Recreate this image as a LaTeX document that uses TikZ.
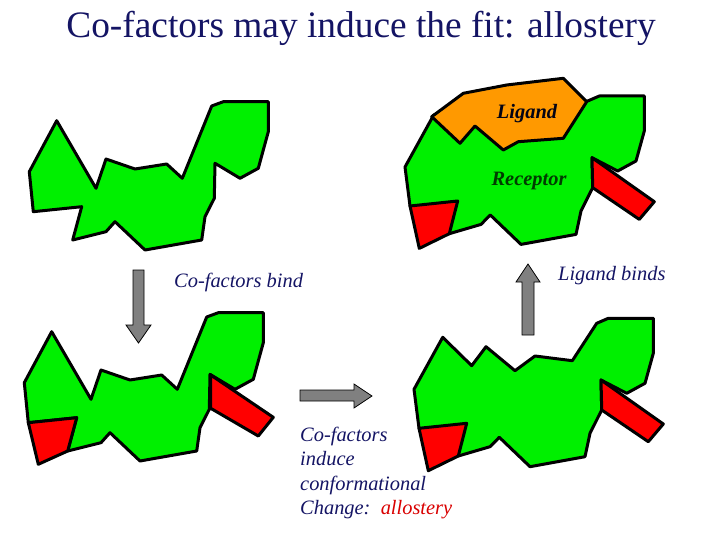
\documentclass[tikz,border=0pt]{standalone}
\usepackage{fontspec}
\setmainfont{Liberation Serif}
\definecolor{gr}{RGB}{0,240,0}
\definecolor{rd}{RGB}{255,0,0}
\definecolor{og}{RGB}{255,153,0}
\definecolor{navy}{RGB}{20,20,100}
\definecolor{dkg}{RGB}{0,60,0}
\definecolor{arr}{RGB}{128,128,128}
\begin{document}
\begin{tikzpicture}[x=1bp,y=-1bp,
  blob/.style={draw=black,line width=3bp,line join=round},
  arrowshape/.style={draw=black,fill=arr,line width=0.8bp},
  lab/.style={font=\itshape\fontsize{20.5}{24}\selectfont,text=navy,inner sep=0pt}]
\useasboundingbox (0,0) rectangle (720,540);
\node[font=\fontsize{37.5}{40}\selectfont,text=navy] (title) at (361,28) {Co-factors may induce the fit: allostery};
% top-left
\def\shapeA{(56.7,120.7) -- (29.3,171.7) -- (33.3,211.7) -- (81.7,206.7) -- (72.7,240) -- (106,231.7) -- (115,221.7) -- (145,250) -- (201.7,240) -- (205,216.7) -- (214.3,198.3) -- (215,163.3) -- (240,178.3) -- (258.3,168.3) -- (268.3,131.7) -- (268.3,101.7) -- (223.3,101.7) -- (211.7,106) -- (182.3,178.3) -- (166.7,164) -- (135,169) -- (106,159) -- (96,188.3) -- cycle}
\fill[gr] \shapeA; \draw[blob] \shapeA;
% bottom-left
\begin{scope}[shift={(-5,211)}]
\fill[gr] \shapeA; \draw[blob] \shapeA;
\end{scope}
\draw[blob,fill=rd] (28.3,422.7) -- (76.7,417.7) -- (67.7,451) -- (38.3,464.3) -- cycle;
\draw[blob,fill=rd] (210.7,375) -- (273.3,417.3) -- (258.3,436) -- (210.7,408.3) -- cycle;
% bottom-right
\def\shapeB{(442.7,337.3) -- (414,389.3) -- (419,428.3) -- (458.3,456) -- (490,446.7) -- (499.3,437.3) -- (530,466.7) -- (585,456.7) -- (590,433.3) -- (601.7,410) -- (601,380) -- (626.7,393.3) -- (645,383.3) -- (653.3,353.3) -- (653.3,318.3) -- (608.3,318.3) -- (596.7,323.3) -- (572.3,360.7) -- (535,356) -- (515,370.7) -- (486,346.7) -- (471.7,365.7) -- cycle}
\fill[gr] \shapeB; \draw[blob] \shapeB;
\draw[blob,fill=rd] (419,428.3) -- (466.7,423.3) -- (458.3,456) -- (428.3,470.7) -- cycle;
\draw[blob,fill=rd] (601,380) -- (663.3,424) -- (648.3,441.7) -- (601.7,410) -- cycle;
% top-right
\begin{scope}[shift={(-9,-222.3)}]
\def\shapeC{(442.7,337.3) -- (414,389.3) -- (419,428.3) -- (458.3,456) -- (490,446.7) -- (499.3,437.3) -- (530,466.7) -- (585,456.7) -- (590,433.3) -- (601.7,410) -- (601,380) -- (626.7,393.3) -- (645,383.3) -- (653.3,353.3) -- (653.3,318.3) -- (608.3,318.3) -- (596.7,323.3) -- cycle}
\fill[gr] \shapeC; \draw[blob] \shapeC;
\draw[blob,fill=rd] (419,428.3) -- (466.7,423.3) -- (458.3,456) -- (428.3,470.7) -- cycle;
\draw[blob,fill=rd] (601,380) -- (663.3,424) -- (648.3,441.7) -- (601.7,410) -- cycle;
\end{scope}
\draw[blob,fill=og] (431.7,116.7) -- (463.3,93.3) -- (506.7,85) -- (563.3,78.3) -- (586.7,101.7) -- (563.3,138.3) -- (518.3,141.7) -- (503.3,150) -- (475,126) -- (460,143.3) -- cycle;
\node[lab,text=black!80!navy] (lig) at (527,114) {\bfseries Ligand};
\node[lab,text=dkg] (rec) at (529,181) {\bfseries Receptor};
% arrows
\draw[arrowshape] (133,270) -- (144,270) -- (144,325) -- (151,325) -- (138.5,343) -- (126,325) -- (133,325) -- cycle;
\draw[arrowshape] (300,390) -- (354,390) -- (354,384) -- (372,396) -- (354,408) -- (354,401) -- (300,401) -- cycle;
\draw[arrowshape] (522,335) -- (534,335) -- (534,282) -- (540,282) -- (528,264) -- (516,282) -- (522,282) -- cycle;
\node[lab,anchor=west] (cfb) at (174,282) {Co-factors bind};
\node[lab,anchor=west] (lb) at (558,276) {Ligand binds};
\node[lab,anchor=north west,align=left,text width=170bp,font=\itshape\fontsize{20.5}{24.5}\selectfont] (cic) at (300,427) {Co-factors\\induce\\conformational\\Change: \textcolor{rd!85!black}{allostery}};
\end{tikzpicture}
\end{document}
